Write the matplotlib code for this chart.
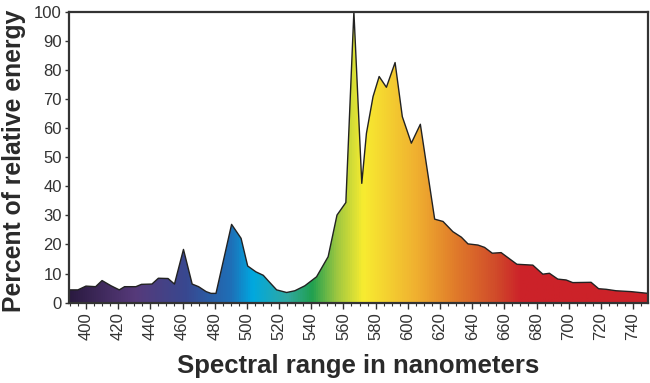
"""Spectral power distribution with a rainbow fill."""

import matplotlib
matplotlib.use("Agg")
import matplotlib.pyplot as plt
import numpy as np
from matplotlib.colors import LinearSegmentedColormap
from matplotlib.ticker import MultipleLocator

wavelength = [
    389.4, 395, 400, 406, 410, 415.6, 420.7, 424, 431, 434.5, 441, 445, 451,
    455, 460.6, 466, 470, 474.7, 477.7, 480.8, 490.5, 496.4, 500.5, 505.6,
    510.2, 513.3, 518.5, 524.7, 529.8, 536, 543.3, 550.5, 556, 561.5, 566.5,
    571.4, 574.3, 578.4, 582.2, 586.7, 592.1, 596.6, 602.2, 607.8, 616.7,
    621.9, 628, 633.3, 637.4, 643.6, 647.7, 652.5, 658, 667.8, 677.7, 683.9,
    688, 693.2, 698.4, 702.5, 713.9, 718.6, 723.2, 729.4, 738.7, 749.3,
]
energy = [
    4.4, 4.4, 5.7, 5.5, 7.6, 5.8, 4.4, 5.5, 5.5, 6.3, 6.4, 8.4, 8.3,
    6.4, 18.3, 6.4, 5.5, 3.8, 3.2, 3.2, 26.9, 22.1, 12.6, 10.6,
    9.4, 7.5, 4.4, 3.5, 4.1, 5.8, 8.9, 15.8, 30.1, 34.4, 100,
    41, 58.2, 70.8, 77.7, 74, 82.5, 63.9, 54.8, 61.3, 28.7,
    27.9, 24.4, 22.5, 20.2, 19.8, 19, 17, 17.2, 13.2, 12.9, 9.8,
    10.1, 8.1, 7.8, 6.9, 7, 4.8, 4.6, 4.1, 3.8, 3.2,
]

# colour stops along the spectrum (nm, colour)
spectrum_nm = [389, 430, 462, 490, 503, 525, 540, 556, 572, 605, 630, 655, 670, 750]
spectrum_col = ["#2a1a40", "#563a7a", "#384890", "#1e70b8", "#00a8e0", "#30a8a0",
                "#20a050", "#a0c840", "#f8ec30", "#f0b030", "#e07a2a", "#d04a2a",
                "#cc2229", "#cc2229"]

xmin, xmax = 389.4, 749.3

plt.rcParams["font.family"] = ["Liberation Sans", "DejaVu Sans"]

fig = plt.figure(figsize=(6.5, 3.83), dpi=100)
ax = fig.add_axes([0.106, 0.2097, 0.891, 0.76])

stops = [(nm - xmin) / (xmax - xmin) for nm in spectrum_nm]
stops = np.clip(stops, 0, 1)
cmap = LinearSegmentedColormap.from_list("spec", list(zip(stops, spectrum_col)))

poly = ax.fill_between(wavelength, energy, 0, facecolor="none", edgecolor="none")
grad = np.linspace(0, 1, 512).reshape(1, -1)
img = ax.imshow(grad, cmap=cmap, aspect="auto", extent=[xmin, xmax, 0, 100],
                origin="lower", zorder=1)
img.set_clip_path(poly.get_paths()[0], transform=ax.transData)
ax.plot(wavelength, energy, color="#222222", lw=1.0, zorder=2)

ax.set_xlim(xmin, xmax)
ax.set_ylim(0, 100)
ax.xaxis.set_minor_locator(MultipleLocator(5))
ax.yaxis.set_major_locator(MultipleLocator(10))
ax.set_xticks(range(400, 741, 20))
ax.tick_params(axis="x", which="major", length=4, width=1, color="#333333",
               labelrotation=90, labelsize=12, labelcolor="#333333", pad=3)
ax.tick_params(axis="x", which="minor", length=2, width=0.8, color="#333333")
ax.tick_params(axis="y", length=3, width=1, color="#333333", labelsize=12,
               labelcolor="#333333", pad=2)
for spine in ax.spines.values():
    spine.set_linewidth(1.6)
    spine.set_color("#333333")

ax.set_xlabel("Spectral range in nanometers", fontsize=18.5, fontweight="bold",
              color="#2a2a2a", labelpad=10)
fig.text(14 / 650, 1 - 161 / 383, "Percent of relative energy", rotation=90,
         ha="center", va="center", fontsize=17.8, fontweight="bold",
         color="#2a2a2a")

fig.savefig("out.png", dpi=100)
plt.close(fig)
